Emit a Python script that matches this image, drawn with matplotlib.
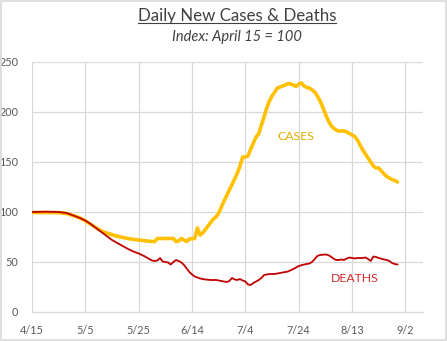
import matplotlib
matplotlib.use("Agg")
from matplotlib import pyplot as plt
from matplotlib.lines import Line2D
from matplotlib.patches import Rectangle

# Days since April 15, index value (April 15 = 100)
case_days = [0, 5, 10, 13, 16, 18, 20, 23, 26, 28, 31, 34, 37, 40, 43, 45, 46, 47,
             50, 53, 54, 55, 56, 57, 58, 59, 61, 62, 63, 64, 66, 68, 69, 70, 72,
             74, 76, 77, 78, 79, 80, 81, 82, 84, 85, 86, 87, 88, 89, 90, 91, 92,
             94, 95, 96, 97, 98, 99, 100, 101, 102, 103, 104, 105, 106, 107, 108,
             109, 110, 111, 112, 113, 114, 115, 116, 117, 118, 119, 120, 121, 122,
             123, 124, 125, 126, 127, 128, 129, 130, 131, 132, 133, 134, 135, 136,
             137]
case_vals = [99.5, 99.5, 99.3, 98.5, 96, 94, 91, 86, 81, 79, 76.5, 74.5, 73, 72, 71,
             70.5, 70.5, 73.5, 73.5, 73.5, 70.5, 71, 73.5, 72, 70.5, 73, 73.5, 84,
             77, 79, 86, 93, 95, 99, 111, 122, 133, 139, 146, 155, 155, 156, 163,
             175, 178, 187, 195, 204, 211, 216, 220, 224, 226, 227, 228.5, 228, 227,
             225.5, 228, 229, 226, 224.5, 224, 222, 220, 216, 211, 205, 198, 192,
             187, 184, 182, 181, 181, 181, 180, 178.5, 177, 175.5, 172, 167, 162,
             158, 154, 150, 146, 144, 144, 141, 138, 135.5, 134, 132.5, 131.5, 130]

death_days = [0, 5, 10, 13, 16, 18, 20, 22, 24, 26, 28, 30, 32, 34, 36, 38, 40, 42,
              44, 45, 46, 47, 48, 49, 50, 51, 52, 53, 54, 55, 56, 57, 58, 59, 60,
              61, 62, 63, 65, 67, 69, 70, 71, 72, 73, 74, 75, 76, 77, 78, 79, 80,
              81, 82, 83, 84, 85, 86, 87, 88, 89, 91, 92, 94, 96, 98, 100, 102, 104,
              105, 106, 107, 108, 110, 111, 112, 113, 114, 115, 116, 117, 118, 119,
              120, 121, 122, 124, 125, 126, 127, 128, 129, 130, 132, 133, 134, 135,
              136, 137]
death_vals = [100, 100.3, 100, 99, 96, 94, 91.5, 88, 84, 80, 76, 72, 69, 66, 63,
              60.5, 58.5, 56, 53, 51.5, 51, 51.5, 54, 50.5, 50, 49.5, 47.5, 50, 52,
              51, 49.5, 47, 43.5, 40, 37.5, 35.5, 34.5, 33.5, 32.5, 32, 32, 31.5, 31,
              30.5, 30, 31, 34, 32.5, 32, 33, 31.5, 30.5, 27.5, 27, 29, 30.5, 32, 34,
              37, 37.5, 38, 38, 38.5, 39.5, 40.5, 43, 46, 47.5, 48.5, 50, 53, 56, 57,
              57.5, 57, 55.5, 53.5, 52, 52, 52.5, 52, 53.5, 54.5, 54, 53.5, 54, 54,
              54.5, 53, 51, 55.5, 55, 54, 52.5, 52, 51, 49, 48, 47.5]

tick_days = [0, 20, 40, 60, 80, 100, 120, 140]
tick_labels = ["4/15", "5/5", "5/25", "6/14", "7/4", "7/24", "8/13", "9/2"]
y_ticks = [0, 50, 100, 150, 200, 250]

FONT = "Lato"
GRID = "#D9D9D9"
TICK = "#595959"

fig = plt.figure(figsize=(4.47, 3.41), dpi=100)
ax = fig.add_axes([32 / 447, 1 - 312 / 341, (423 - 32) / 447, (312 - 62) / 341])

ax.plot(case_days, case_vals, color="#FFC000", lw=2.6, solid_joinstyle="round",
        solid_capstyle="round", zorder=3)
ax.plot(death_days, death_vals, color="#C00000", lw=1.3, solid_joinstyle="round",
        zorder=4)

ax.set_xlim(0, 146.6)
ax.set_ylim(0, 250)
ax.set_xticks(tick_days)
ax.set_xticklabels(tick_labels)
ax.set_yticks(y_ticks)
ax.grid(True, color=GRID, lw=0.9)
ax.set_axisbelow(True)
for side in ["top", "right", "left"]:
    ax.spines[side].set_visible(False)
ax.spines["bottom"].set_color(GRID)
ax.tick_params(length=0, labelsize=7.8, labelcolor=TICK)
ax.tick_params(axis="x", pad=9)
ax.tick_params(axis="y", pad=10)
for lab in ax.get_xticklabels() + ax.get_yticklabels():
    lab.set_fontfamily(FONT)

ax.text(99, 175, "CASES", color="#E6AC00", fontsize=8.8, family=FONT,
        ha="center", va="center")
ax.text(121, 34, "DEATHS", color="#D42A2A", fontsize=8.8, family=FONT,
        ha="center", va="center")

title = fig.text(237 / 447, 1 - 16 / 341, "Daily New Cases & Deaths", ha="center",
                 va="center", fontsize=12.2, family=FONT, color="#404040")
fig.text(237 / 447, 1 - 37 / 341, "Index: April 15 = 100", ha="center", va="center",
         fontsize=10.5, family=FONT, style="italic", color="#404040")

# underline the title
fig.canvas.draw()
bb = title.get_window_extent().transformed(fig.transFigure.inverted())
fig.add_artist(Line2D([bb.x0, bb.x1], [bb.y0 + 0.004, bb.y0 + 0.004],
                      transform=fig.transFigure, color="#404040", lw=0.8))

# chart border
fig.add_artist(Rectangle((0.002, 0.003), 0.995, 0.994, transform=fig.transFigure,
                         fill=False, edgecolor=GRID, lw=1.2))

plt.savefig("out.png", dpi=100)
